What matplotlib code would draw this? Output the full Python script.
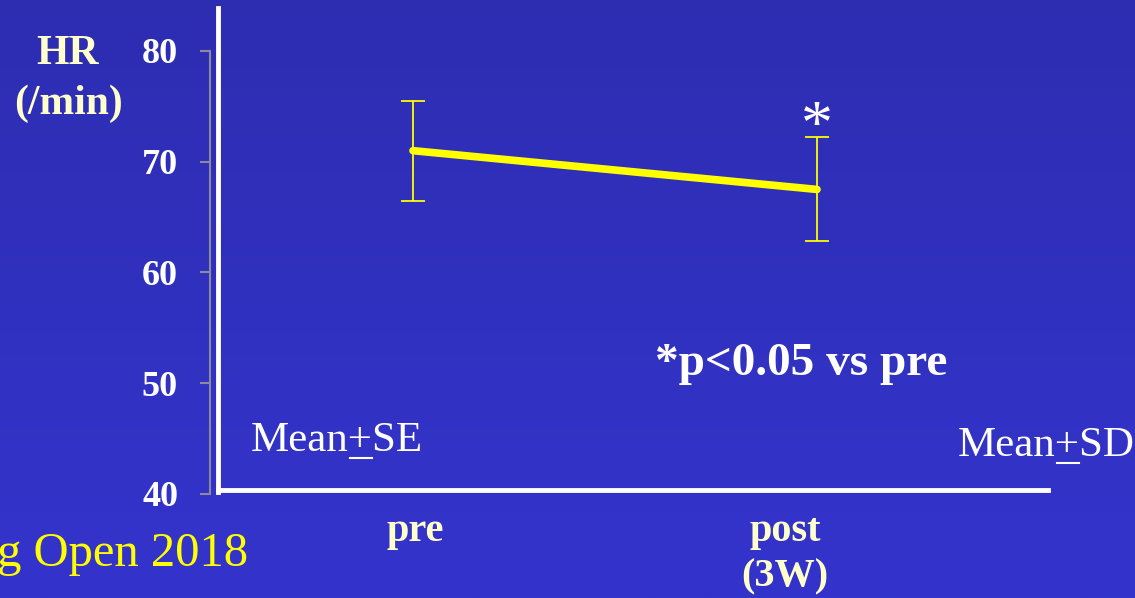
import matplotlib
matplotlib.use("Agg")
import matplotlib.pyplot as plt
import numpy as np
from matplotlib.lines import Line2D

# heart rate before and after 3 weeks
groups = ["pre", "post\n(3W)"]
hr_mean = [71.0, 67.5]
hr_err = [4.5, 4.7]
y_ticks = [40, 50, 60, 70, 80]

W, H = 1135, 598
SERIF = ["Liberation Serif", "DejaVu Serif"]
CREAM = "#ffffcc"


def fx(px):
    return px / W


def fy(py):
    return 1 - py / H


fig = plt.figure(figsize=(W / 100, H / 100), dpi=100)

# blue gradient background
bg = fig.add_axes([0, 0, 1, 1], zorder=-10)
grad = np.linspace(0, 1, 256)[:, None]
top = np.array([45, 45, 178]) / 255
bot = np.array([52, 52, 205]) / 255
img = top[None, None, :] * (1 - grad[..., None]) + bot[None, None, :] * grad[..., None]
bg.imshow(img, aspect="auto", extent=[0, 1, 0, 1])
bg.axis("off")

ax = fig.add_axes([fx(210), fy(494), fx(1048) - fx(210), fy(51) - fy(494)])
ax.patch.set_alpha(0)
x = np.arange(len(groups))
ax.errorbar(x, hr_mean, yerr=hr_err, color="#ffff00", lw=0, elinewidth=1.3,
            capsize=8.6, capthick=1.3, zorder=2)
ax.plot(x, hr_mean, color="#ffff00", lw=5.5, solid_capstyle="round", zorder=3)

ax.set_xlim(-0.5025, 1.5718)
ax.set_ylim(40, 80)
ax.set_yticks(y_ticks)
ax.set_yticklabels([str(v) for v in y_ticks], family=SERIF, fontweight="bold",
                   fontsize=26, color="white")
ax.tick_params(axis="y", length=7, width=1.5, color="#8a8a9a", pad=16)
ax.set_xticks([])
for s in ["top", "right", "bottom"]:
    ax.spines[s].set_visible(False)
ax.spines["left"].set_color("#8a8a9a")
ax.spines["left"].set_linewidth(1.5)

# white frame lines
fig.add_artist(Line2D([fx(218), fx(218)], [fy(8), fy(492)], color="white", lw=3.5,
                      transform=fig.transFigure))
fig.add_artist(Line2D([fx(218), fx(1048)], [fy(490), fy(490)], color="white", lw=3.5,
                      transform=fig.transFigure))

# significance mark above post
ax.annotate("*", (x[1], hr_mean[1] + hr_err[1]), xytext=(0, -5), textcoords="offset points",
            ha="center", va="baseline", family=SERIF, fontsize=46, color="white")

fig.text(fx(68), fy(54), "HR", family=SERIF, fontweight="bold", fontsize=30,
         color=CREAM, ha="center", va="center")
fig.text(fx(68), fy(104), "(/min)", family=SERIF, fontweight="bold", fontsize=30,
         color=CREAM, ha="center", va="center")

fig.text(fx(415), fy(531), "pre", family=SERIF, fontweight="bold", fontsize=29,
         color=CREAM, ha="center", va="center")
fig.text(fx(785), fy(531), "post", family=SERIF, fontweight="bold", fontsize=29,
         color=CREAM, ha="center", va="center")
fig.text(fx(785), fy(577), "(3W)", family=SERIF, fontweight="bold", fontsize=29,
         color=CREAM, ha="center", va="center")

fig.text(fx(801), fy(364), "*p<0.05 vs pre", family=SERIF, fontweight="bold",
         fontsize=34, color="white", ha="center", va="center")

fig.text(fx(248), fy(554), "g Open 2018", family=SERIF, fontsize=35,
         color="#ffff00", ha="right", va="center")

renderer = fig.canvas.get_renderer()


def mean_pm(x0, y0, tail):
    # "Mean+XX" with the plus sign underlined
    kw = dict(family=SERIF, fontsize=31, color="white", ha="left", va="center")
    t = fig.text(fx(x0), fy(y0), "Mean+" + tail, **kw)
    a = fig.text(0, 0, "Mean", **kw)
    b = fig.text(0, 0, "Mean+", **kw)
    w0 = a.get_window_extent(renderer).width
    w1 = b.get_window_extent(renderer).width
    a.remove()
    b.remove()
    uy = y0 + 17
    fig.add_artist(Line2D([fx(x0 + w0 + 1), fx(x0 + w1 - 1)], [fy(uy), fy(uy)],
                          color="white", lw=1.5, transform=fig.transFigure))
    return t


mean_pm(251, 441, "SE")
mean_pm(958, 446, "SD")

fig.savefig("out.png", dpi=100)
